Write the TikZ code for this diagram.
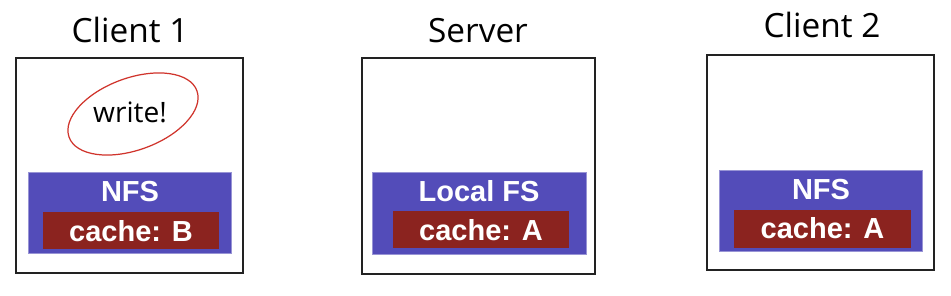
\documentclass[tikz,border=0pt]{standalone}
\usepackage{fontspec}
\setmainfont{Open Sans}
\newfontfamily\layerfont{Liberation Sans}
\usetikzlibrary{positioning}
\definecolor{frame}{HTML}{222222}
\definecolor{layer}{HTML}{534CB9}
\definecolor{cachered}{HTML}{8B231F}
\definecolor{pen}{HTML}{D0342C}
\tikzset{machine/.style={draw=frame,line width=1.1pt,fill=white,minimum width=4.54cm,minimum height=4.3cm,inner sep=0pt},
title/.style={anchor=base,font=\fontsize{19}{23}\selectfont},
fslayer/.style={fill=layer,draw=layer!60,line width=.4pt,minimum width=4.06cm,minimum height=1.62cm,inner sep=0pt},
cachebox/.style={fill=cachered,minimum width=3.52cm,minimum height=.74cm,inner sep=0pt},
layertext/.style={anchor=base,text=white,font=\layerfont\bfseries\fontsize{16.5}{19}\selectfont}}
\begin{document}
\begin{tikzpicture}[x=0.02cm,y=-0.02cm]
\useasboundingbox (0,0) rectangle (951,296);
% client 1
\node[machine] (c1) at (129.5,165.5) {};
\node[title] (c1t) at (130,43) {Client 1};
\node[fslayer] (c1fs) at (129.5,212.5) {};
\node[cachebox] (c1c) at (131,230.5) {};
\node[layertext] (c1fst) at (130,202) {NFS};
\node[layertext] (c1ct) at (131,242) {cache: B};
\node[anchor=base,font=\fontsize{16}{19}\selectfont] (w) at (130,123) {write!};
\draw[pen,line width=.7pt,rotate around={20:(133,114)}] (133,114) ellipse (68 and 36);
% server
\node[machine,minimum width=4.66cm,minimum height=4.32cm] (s) at (478.5,166) {};
\node[title] (st) at (478,43) {Server};
\node[fslayer,minimum width=4.28cm,minimum height=1.64cm] (sfs) at (479,213) {};
\node[cachebox] (sc) at (481,229.5) {};
\node[layertext] (sfst) at (479,202) {Local FS};
\node[layertext] (sct) at (481,241) {cache: A};
% client 2
\node[machine] (c2) at (820.5,162.5) {};
\node[title] (c2t) at (822,38) {Client 2};
\node[fslayer] (c2fs) at (820.5,210.5) {};
\node[cachebox,minimum width=3.54cm,minimum height=.76cm] (c2c) at (822.5,229) {};
\node[layertext] (c2fst) at (821,200) {NFS};
\node[layertext] (c2ct) at (822.5,239) {cache: A};
\end{tikzpicture}
\end{document}
